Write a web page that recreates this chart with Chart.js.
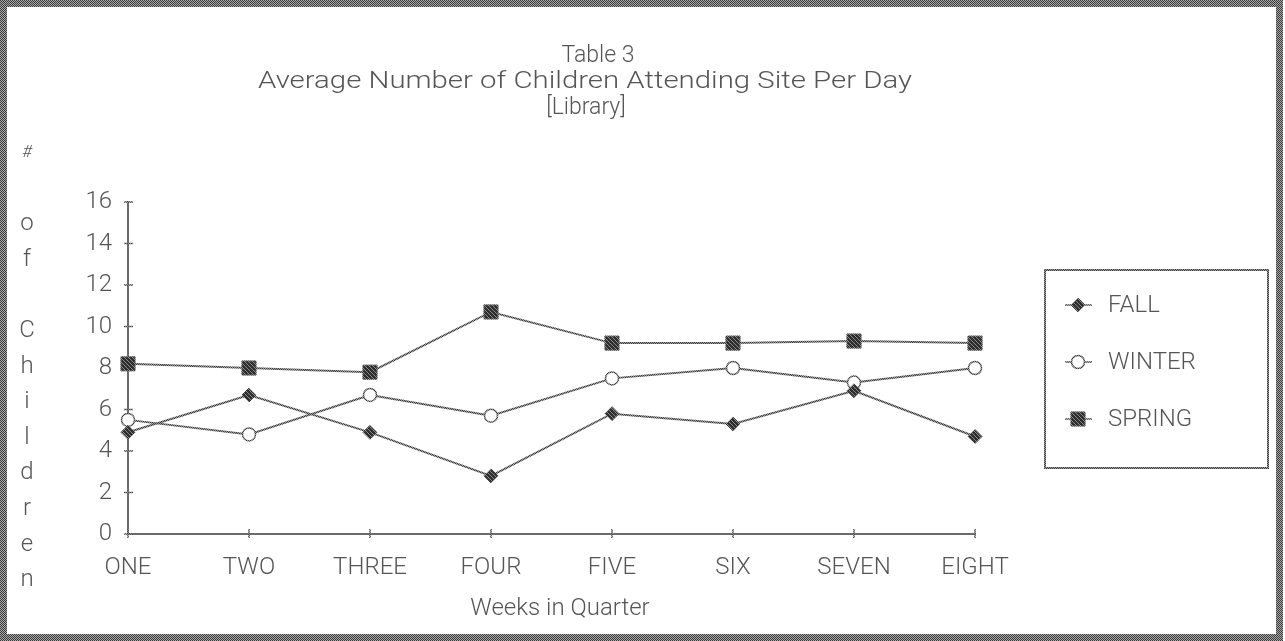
<!DOCTYPE html>
<html>
<head>
<meta charset="utf-8">
<script src="https://cdn.jsdelivr.net/npm/chart.js@4.4.0/dist/chart.umd.min.js"></script>
<style>
  html, body { margin: 0; padding: 0; background: #fff; overflow: hidden; }
  canvas { display: block; }
</style>
</head>
<body>
<canvas id="c" width="1285" height="641"></canvas>
<script>
// Weekly averages of children attending the library site, by quarter
const weeks = ['ONE', 'TWO', 'THREE', 'FOUR', 'FIVE', 'SIX', 'SEVEN', 'EIGHT'];
const fallValues   = [4.9, 6.7, 4.9, 2.8, 5.8, 5.3, 6.9, 4.7];
const winterValues = [5.5, 4.8, 6.7, 5.7, 7.5, 8.0, 7.3, 8.0];
const springValues = [8.2, 8.0, 7.8, 10.7, 9.2, 9.2, 9.3, 9.2];
const seriesNames = ['FALL', 'WINTER', 'SPRING'];
const yMin = 0, yMax = 16, yStep = 2;

const titleLines = ['Table 3', 'Average Number of Children Attending Site Per Day', '[Library]'];
const yAxisLetters = ['#', '', 'o', 'f', '', 'C', 'h', 'i', 'l', 'd', 'r', 'e', 'n'];
const xAxisTitle = 'Weeks in Quarter';

const FONT = "'Roboto', 'Liberation Sans', sans-serif";
const TEXT = '#555';

const canvas = document.getElementById('c');
const ctx0 = canvas.getContext('2d');

// small speckled tiles give the photocopied grain of strokes and fills
function grain(dark, light, cells) {
  const t = document.createElement('canvas');
  t.width = 4; t.height = 4;
  const g = t.getContext('2d');
  g.fillStyle = light; g.fillRect(0, 0, 4, 4);
  g.fillStyle = dark;
  cells.forEach(([x, y]) => g.fillRect(x, y, 1, 1));
  return ctx0.createPattern(t, 'repeat');
}
const checker = [[0,0],[2,0],[1,1],[3,1],[0,2],[2,2],[1,3],[3,3]];
const dense = checker.concat([[1,0],[3,2],[0,3],[2,1]]);
const linePat   = grain('#3c3c3c', '#9c9c9c', checker);
const markPat   = grain('#2e2e2e', '#8a8a8a', dense);
const framePat  = grain('#3a3a3a', '#a8a8a8', checker);

const pageFrame = {
  id: 'pageFrame',
  beforeDraw(chart) {
    const { ctx, width, height } = chart;
    ctx.save();
    ctx.fillStyle = '#fff';
    ctx.fillRect(0, 0, width, height);
    ctx.strokeStyle = framePat;
    ctx.lineWidth = 7;
    ctx.strokeRect(3.5, 3.5, width - 9, height - 7);
    ctx.restore();
  }
};

const axisMarks = {
  id: 'axisMarks',
  beforeDatasetsDraw(chart) {
    const { ctx, scales: { x, y } } = chart;
    ctx.save();
    ctx.strokeStyle = linePat;
    ctx.lineWidth = 1.5;
    y.ticks.forEach((t, i) => {
      const py = y.getPixelForTick(i);
      ctx.beginPath(); ctx.moveTo(x.left - 4, py); ctx.lineTo(x.left + 5, py); ctx.stroke();
    });
    x.ticks.forEach((t, i) => {
      const px = x.getPixelForTick(i);
      ctx.beginPath(); ctx.moveTo(px, y.bottom - 5); ctx.lineTo(px, y.bottom + 4); ctx.stroke();
    });
    ctx.restore();
  }
};

function drawMarker(ctx, ds, cx, cy) {
  const r = ds.pointRadius;
  ctx.fillStyle = ds.pointBackgroundColor;
  ctx.strokeStyle = ds.pointBorderColor;
  ctx.lineWidth = ds.pointBorderWidth;
  ctx.beginPath();
  if (ds.pointStyle === 'rect') {
    const s = Math.SQRT1_2 * r;
    ctx.rect(cx - s, cy - s, 2 * s, 2 * s);
  } else if (ds.pointStyle === 'rectRot') {
    ctx.moveTo(cx - r, cy); ctx.lineTo(cx, cy - r); ctx.lineTo(cx + r, cy); ctx.lineTo(cx, cy + r); ctx.closePath();
  } else {
    ctx.arc(cx, cy, r, 0, Math.PI * 2);
  }
  ctx.fill();
  ctx.stroke();
}

const annotations = {
  id: 'annotations',
  afterDraw(chart) {
    const { ctx, chartArea } = chart;
    ctx.save();
    ctx.fillStyle = TEXT;
    ctx.textAlign = 'center';
    ctx.textBaseline = 'middle';

    // heading block
    ctx.font = `300 23px ${FONT}`;
    ctx.fillText(titleLines[0], 598, 56);
    const w = ctx.measureText(titleLines[1]).width;
    ctx.save();
    ctx.translate(585, 82);
    ctx.scale(654 / w, 1);
    ctx.fillText(titleLines[1], 0, 0);
    ctx.restore();
    ctx.fillText(titleLines[2], 586, 108);

    // vertical axis caption, one letter per line
    yAxisLetters.forEach((ch, i) => {
      if (!ch) return;
      ctx.font = ch === '#' ? `italic 300 17px ${FONT}` : `300 24px ${FONT}`;
      ctx.fillText(ch, 27, 153 + i * 35.6);
    });

    // horizontal axis caption
    ctx.font = `300 24px ${FONT}`;
    ctx.fillText(xAxisTitle, 560, 609);

    // legend box
    ctx.strokeStyle = linePat;
    ctx.lineWidth = 2;
    ctx.strokeRect(1045, 270, 223, 198);
    ctx.textAlign = 'left';
    chart.data.datasets.forEach((ds, i) => {
      const cy = 305 + i * 57;
      ctx.strokeStyle = ds.borderColor;
      ctx.lineWidth = 1.5;
      ctx.beginPath(); ctx.moveTo(1065, cy); ctx.lineTo(1092, cy); ctx.stroke();
      drawMarker(ctx, ds, 1078, cy);
      ctx.fillStyle = TEXT;
      ctx.font = `300 24px ${FONT}`;
      ctx.fillText(ds.label, 1108, cy + 1);
    });
    ctx.restore();
  }
};

const seriesStyle = {
  borderColor: linePat,
  borderWidth: 2,
  tension: 0,
  fill: false,
  clip: false,
  pointBorderColor: linePat,
  pointBorderWidth: 1
};

new Chart(canvas, {
  type: 'line',
  data: {
    labels: weeks,
    datasets: [
      Object.assign({}, seriesStyle, {
        label: seriesNames[0], data: fallValues,
        pointStyle: 'rectRot', pointRadius: 7, pointBackgroundColor: markPat
      }),
      Object.assign({}, seriesStyle, {
        label: seriesNames[1], data: winterValues,
        pointStyle: 'circle', pointRadius: 6.5, pointBackgroundColor: '#ffffff', pointBorderWidth: 1.5
      }),
      Object.assign({}, seriesStyle, {
        label: seriesNames[2], data: springValues,
        pointStyle: 'rect', pointRadius: 10, pointBackgroundColor: markPat
      })
    ]
  },
  options: {
    responsive: false,
    animation: false,
    devicePixelRatio: 1,
    layout: { padding: { top: 202, right: 310, bottom: 0, left: 0 } },
    plugins: {
      legend: { display: false },
      tooltip: { enabled: false },
      title: { display: false }
    },
    scales: {
      x: {
        type: 'category',
        offset: false,
        afterFit(scale) { scale.height = 107; },
        grid: { display: true, drawOnChartArea: false, drawTicks: false, color: 'rgba(0,0,0,0)' },
        border: { display: true, color: '#6a6a6a', width: 2 },
        ticks: {
          color: TEXT, padding: 20, maxRotation: 0, autoSkip: false,
          font: { family: FONT, size: 24, weight: '300' }
        }
      },
      y: {
        min: yMin, max: yMax,
        afterFit(scale) { scale.width = 128; },
        grid: { display: true, drawOnChartArea: false, drawTicks: false, color: 'rgba(0,0,0,0)' },
        border: { display: true, color: '#6a6a6a', width: 2 },
        ticks: {
          stepSize: yStep, color: TEXT, padding: 16,
          font: { family: FONT, size: 24, weight: '300' }
        }
      }
    }
  },
  plugins: [pageFrame, axisMarks, annotations]
});
</script>
</body>
</html>
